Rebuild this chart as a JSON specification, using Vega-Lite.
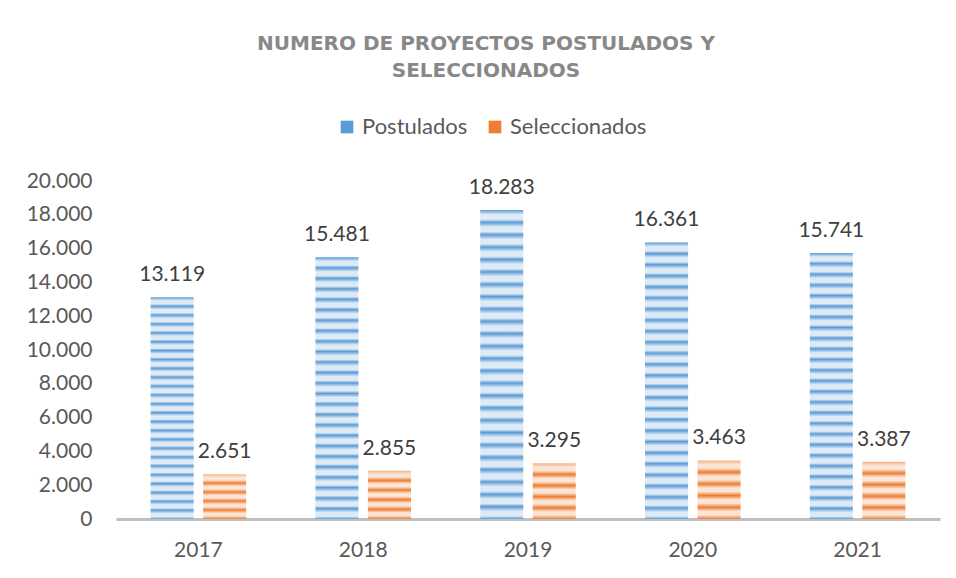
{
  "$schema": "https://vega.github.io/schema/vega-lite/v6.json",
  "width": 824,
  "height": 338,
  "autosize": {"type": "none"},
  "padding": {"left": 116, "top": 181, "right": 16, "bottom": 59},
  "background": "white",
  "title": {
    "text": ["NUMERO DE PROYECTOS POSTULADOS Y", "SELECCIONADOS"],
    "anchor": "middle",
    "font": "DejaVu Sans",
    "fontSize": 20,
    "fontWeight": "bold",
    "color": "#888888",
    "lineHeight": 27,
    "offset": 35,
    "dx": -42
  },
  "data": {
    "values": [
      {"year": "2017", "series": "Postulados", "value": 13119},
      {"year": "2018", "series": "Postulados", "value": 15481},
      {"year": "2019", "series": "Postulados", "value": 18283},
      {"year": "2020", "series": "Postulados", "value": 16361},
      {"year": "2021", "series": "Postulados", "value": 15741},
      {"year": "2017", "series": "Seleccionados", "value": 2651},
      {"year": "2018", "series": "Seleccionados", "value": 2855},
      {"year": "2019", "series": "Seleccionados", "value": 3295},
      {"year": "2020", "series": "Seleccionados", "value": 3463},
      {"year": "2021", "series": "Seleccionados", "value": 3387}
    ]
  },
  "encoding": {
    "x": {
      "field": "year",
      "type": "nominal",
      "title": null,
      "scale": {"paddingInner": 0.42, "paddingOuter": 0.21},
      "axis": {
        "labelAngle": 0,
        "labelFont": "Lato",
        "labelFontSize": 21,
        "labelColor": "#595959",
        "labelPadding": 20,
        "ticks": false,
        "domainColor": "#BFBFBF",
        "domainWidth": 3
      }
    },
    "xOffset": {
      "field": "series",
      "type": "nominal",
      "scale": {"domain": ["Postulados", "Seleccionados"], "paddingInner": 0.18}
    },
    "y": {
      "field": "value",
      "type": "quantitative",
      "title": null,
      "scale": {"domain": [0, 20000]},
      "axis": {
        "values": [0, 2000, 4000, 6000, 8000, 10000, 12000, 14000, 16000, 18000, 20000],
        "format": ",d",
        "labelFont": "Lato",
        "labelFontSize": 21,
        "labelColor": "#595959",
        "labelPadding": 24,
        "ticks": false,
        "domain": false,
        "grid": false
      }
    }
  },
  "layer": [
    {
      "transform": [{"filter": "datum.series === 'Postulados'"}],
      "mark": {
        "type": "bar",
        "fill": {
          "gradient": "linear", "x1": 0, "y1": 0, "x2": 0, "y2": 1,
          "stops": [
            {"offset": 0, "color": "#5B9BD5"}, {"offset": 0.015, "color": "#DEEBF7"}, {"offset": 0.03, "color": "#DEEBF7"},
            {"offset": 0.04, "color": "#5B9BD5"}, {"offset": 0.055, "color": "#DEEBF7"}, {"offset": 0.07, "color": "#DEEBF7"},
            {"offset": 0.08, "color": "#5B9BD5"}, {"offset": 0.095, "color": "#DEEBF7"}, {"offset": 0.11, "color": "#DEEBF7"},
            {"offset": 0.12, "color": "#5B9BD5"}, {"offset": 0.135, "color": "#DEEBF7"}, {"offset": 0.15, "color": "#DEEBF7"},
            {"offset": 0.16, "color": "#5B9BD5"}, {"offset": 0.175, "color": "#DEEBF7"}, {"offset": 0.19, "color": "#DEEBF7"},
            {"offset": 0.2, "color": "#5B9BD5"}, {"offset": 0.215, "color": "#DEEBF7"}, {"offset": 0.23, "color": "#DEEBF7"},
            {"offset": 0.24, "color": "#5B9BD5"}, {"offset": 0.255, "color": "#DEEBF7"}, {"offset": 0.27, "color": "#DEEBF7"},
            {"offset": 0.28, "color": "#5B9BD5"}, {"offset": 0.295, "color": "#DEEBF7"}, {"offset": 0.31, "color": "#DEEBF7"},
            {"offset": 0.32, "color": "#5B9BD5"}, {"offset": 0.335, "color": "#DEEBF7"}, {"offset": 0.35, "color": "#DEEBF7"},
            {"offset": 0.36, "color": "#5B9BD5"}, {"offset": 0.375, "color": "#DEEBF7"}, {"offset": 0.39, "color": "#DEEBF7"},
            {"offset": 0.4, "color": "#5B9BD5"}, {"offset": 0.415, "color": "#DEEBF7"}, {"offset": 0.43, "color": "#DEEBF7"},
            {"offset": 0.44, "color": "#5B9BD5"}, {"offset": 0.455, "color": "#DEEBF7"}, {"offset": 0.47, "color": "#DEEBF7"},
            {"offset": 0.48, "color": "#5B9BD5"}, {"offset": 0.495, "color": "#DEEBF7"}, {"offset": 0.51, "color": "#DEEBF7"},
            {"offset": 0.52, "color": "#5B9BD5"}, {"offset": 0.535, "color": "#DEEBF7"}, {"offset": 0.55, "color": "#DEEBF7"},
            {"offset": 0.56, "color": "#5B9BD5"}, {"offset": 0.575, "color": "#DEEBF7"}, {"offset": 0.59, "color": "#DEEBF7"},
            {"offset": 0.6, "color": "#5B9BD5"}, {"offset": 0.615, "color": "#DEEBF7"}, {"offset": 0.63, "color": "#DEEBF7"},
            {"offset": 0.64, "color": "#5B9BD5"}, {"offset": 0.655, "color": "#DEEBF7"}, {"offset": 0.67, "color": "#DEEBF7"},
            {"offset": 0.68, "color": "#5B9BD5"}, {"offset": 0.695, "color": "#DEEBF7"}, {"offset": 0.71, "color": "#DEEBF7"},
            {"offset": 0.72, "color": "#5B9BD5"}, {"offset": 0.735, "color": "#DEEBF7"}, {"offset": 0.75, "color": "#DEEBF7"},
            {"offset": 0.76, "color": "#5B9BD5"}, {"offset": 0.775, "color": "#DEEBF7"}, {"offset": 0.79, "color": "#DEEBF7"},
            {"offset": 0.8, "color": "#5B9BD5"}, {"offset": 0.815, "color": "#DEEBF7"}, {"offset": 0.83, "color": "#DEEBF7"},
            {"offset": 0.84, "color": "#5B9BD5"}, {"offset": 0.855, "color": "#DEEBF7"}, {"offset": 0.87, "color": "#DEEBF7"},
            {"offset": 0.88, "color": "#5B9BD5"}, {"offset": 0.895, "color": "#DEEBF7"}, {"offset": 0.91, "color": "#DEEBF7"},
            {"offset": 0.92, "color": "#5B9BD5"}, {"offset": 0.935, "color": "#DEEBF7"}, {"offset": 0.95, "color": "#DEEBF7"},
            {"offset": 0.96, "color": "#5B9BD5"}, {"offset": 0.975, "color": "#DEEBF7"}, {"offset": 0.99, "color": "#DEEBF7"},
            {"offset": 1, "color": "#5B9BD5"}
          ]
        }
      }
    },
    {
      "transform": [{"filter": "datum.series === 'Seleccionados'"}],
      "mark": {
        "type": "bar",
        "fill": {
          "gradient": "linear", "x1": 0, "y1": 0, "x2": 0, "y2": 1,
          "stops": [
            {"offset": 0, "color": "#F4B183"}, {"offset": 0.07, "color": "#FBE5D6"}, {"offset": 0.13, "color": "#FBE5D6"},
            {"offset": 0.2, "color": "#ED7D31"}, {"offset": 0.27, "color": "#FBE5D6"}, {"offset": 0.33, "color": "#FBE5D6"},
            {"offset": 0.4, "color": "#ED7D31"}, {"offset": 0.47, "color": "#FBE5D6"}, {"offset": 0.53, "color": "#FBE5D6"},
            {"offset": 0.6, "color": "#ED7D31"}, {"offset": 0.67, "color": "#FBE5D6"}, {"offset": 0.73, "color": "#FBE5D6"},
            {"offset": 0.8, "color": "#ED7D31"}, {"offset": 0.87, "color": "#FBE5D6"}, {"offset": 0.93, "color": "#FBE5D6"},
            {"offset": 1, "color": "#ED7D31"}
          ]
        }
      }
    },
    {
      "mark": {"type": "point", "filled": true, "opacity": 0, "size": 1},
      "encoding": {
        "color": {
          "field": "series",
          "type": "nominal",
          "title": null,
          "scale": {"domain": ["Postulados", "Seleccionados"], "range": ["#5B9BD5", "#ED7D31"]},
          "legend": {
            "orient": "none",
            "direction": "horizontal",
            "legendX": 220,
            "legendY": -65,
            "symbolType": "square",
            "symbolSize": 160,
            "symbolOpacity": 1,
            "symbolStrokeWidth": 0,
            "labelFont": "Lato",
            "labelFontSize": 22,
            "labelColor": "#595959",
            "labelOffset": 4,
            "columnPadding": 16
          }
        }
      }
    },
    {
      "mark": {
        "type": "text",
        "baseline": "alphabetic",
        "dy": -16,
        "font": "Lato",
        "fontSize": 21,
        "color": "#404040"
      },
      "encoding": {
        "text": {"field": "value", "type": "quantitative", "format": ",d"}
      }
    }
  ],
  "config": {
    "view": {"stroke": null},
    "locale": {
      "number": {"decimal": ",", "thousands": ".", "grouping": [3], "currency": ["$", ""]}
    }
  }
}
